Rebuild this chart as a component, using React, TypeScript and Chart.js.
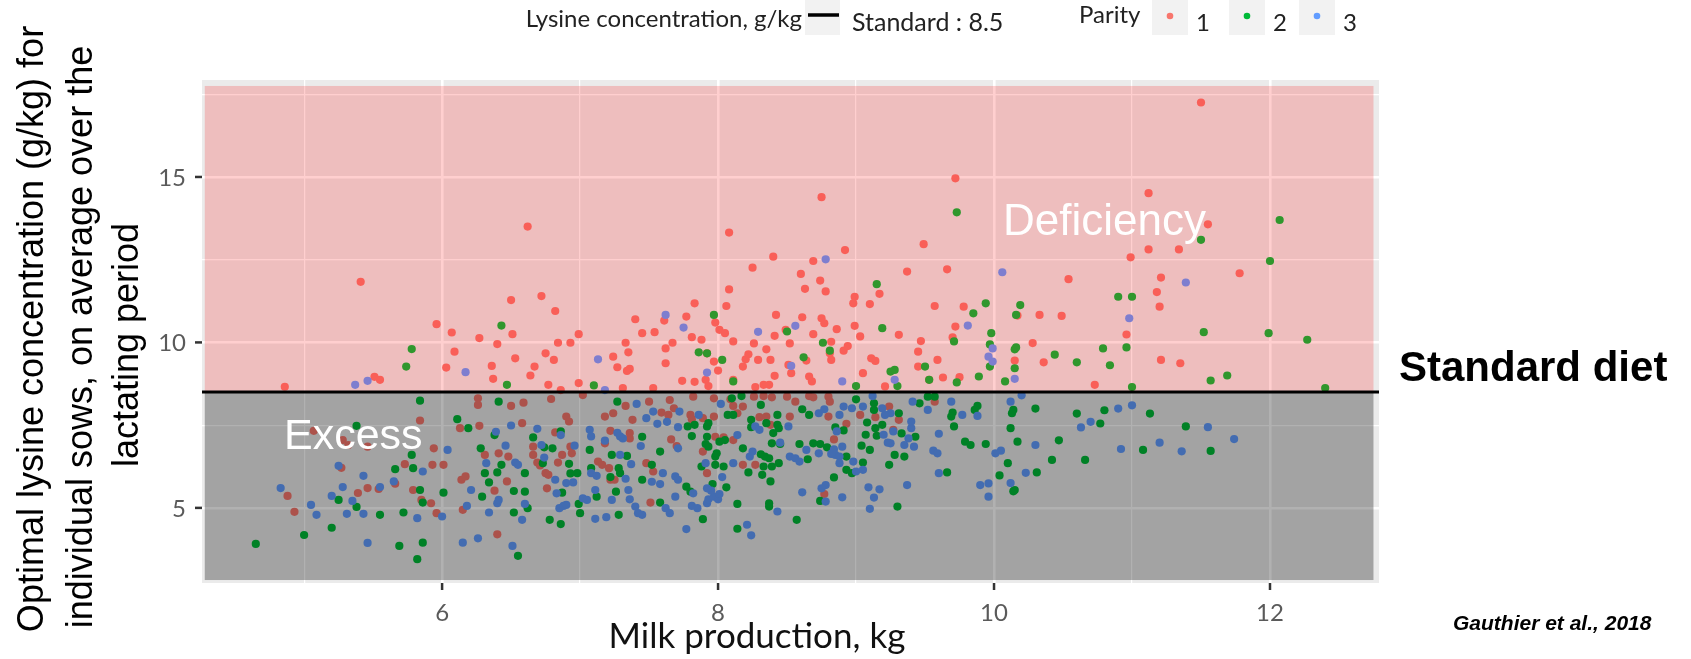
import React, { useEffect, useRef } from "react";
import { Chart, registerables } from "chart.js";

Chart.register(...registerables);

// ---------- data ----------
const xTicks = [6, 8, 10, 12];
const yTicks = [5, 10, 15];
const xRange = [4.26, 12.79];
const yRange = [2.73, 17.93];
const standardLevel = 8.5;
const regionX = [4.28, 12.75];
const deficiencyTop = 17.75;
const excessBottom = 2.82;
const parityLabels = ["1", "2", "3"];
const parityColors = ["#F8766D", "#00BA38", "#619CFF"];
const yTitleLines = [
  "Optimal lysine concentration (g/kg) for",
  "individual sows, on average over the",
  "lactating period",
];
const xTitle = "Milk production, kg";
const legendTitle = "Lysine concentration, g/kg";
const legendStandard = "Standard : 8.5";
const legendParity = "Parity";

const parity1: [number, number][] = [
  [4.86, 8.66], [5.51, 8.96], [5.55, 8.87], [5.07, 7.33], [5.28, 7.05], [5.32, 6.9], [5.46, 6.85], [5.27, 6.21],
  [4.88, 5.36], [5.39, 5.45], [5.46, 5.6], [5.54, 5.57], [4.93, 4.88], [5.41, 11.83], [6.62, 13.5], [6.72, 11.4],
  [6.5, 11.28], [6.82, 10.95], [5.96, 10.55], [6.07, 10.3], [6.51, 10.25], [6.27, 10.13], [6.4, 9.95], [6.09, 9.72],
  [6.84, 9.99], [6.93, 9.99], [6.99, 10.25], [6.75, 9.67], [6.53, 9.52], [6.81, 9.47], [6.03, 9.24], [6.36, 9.29],
  [6.67, 9.27], [6.37, 8.9], [6.64, 9.0], [6.77, 8.72], [6.99, 8.77], [7.24, 9.57], [7.27, 9.25], [7.34, 9.14],
  [7.36, 9.2], [7.4, 10.7], [7.45, 10.28], [7.54, 10.31], [7.33, 9.99], [7.35, 9.7], [7.61, 10.66], [7.77, 10.78],
  [7.83, 11.18], [7.81, 10.16], [7.67, 9.99], [7.62, 9.82], [7.62, 9.37], [7.74, 8.84], [7.83, 8.81], [7.53, 8.62],
  [7.31, 8.62], [6.86, 8.56],
  [6.26, 8.31], [6.26, 8.11], [6.5, 8.08], [6.59, 8.18], [6.79, 8.29], [7.02, 8.41], [5.84, 7.64], [6.13, 7.41],
  [6.27, 7.48], [6.58, 7.56], [6.9, 7.76], [6.92, 7.61], [6.82, 7.28], [7.18, 7.76], [7.24, 7.86], [7.22, 7.33],
  [7.33, 8.08], [7.38, 7.66], [7.36, 7.26], [7.36, 7.1], [7.18, 6.95], [7.5, 8.21], [7.59, 7.88], [7.65, 8.26],
  [7.68, 8.01], [7.64, 7.81], [7.8, 7.81], [7.81, 7.68], [7.82, 8.36], [7.66, 7.07], [7.7, 6.87], [5.94, 6.8],
  [5.73, 6.32], [5.93, 6.3], [6.01, 6.3], [5.66, 5.73], [5.79, 5.54], [5.85, 5.24], [5.92, 5.14], [5.96, 4.84],
  [6.14, 5.85], [6.17, 5.95], [6.31, 6.6], [6.38, 5.52], [6.15, 4.94], [6.41, 6.65], [6.47, 5.8], [6.48, 6.55],
  [6.66, 6.85], [6.66, 6.6], [6.69, 6.37], [6.71, 6.28], [6.75, 6.05], [6.77, 6.0], [6.84, 6.37], [6.87, 6.6],
  [6.93, 6.85], [6.94, 6.65], [6.76, 5.59], [7.13, 6.4], [7.16, 6.3], [7.21, 6.2], [7.22, 5.85], [7.25, 5.85],
  [7.53, 6.1], [7.48, 6.35], [7.51, 5.16], [6.4, 4.2],
  [8.06, 11.1], [7.98, 10.6], [8.01, 10.38], [8.05, 10.28], [8.11, 10.03], [7.88, 10.08], [7.92, 9.67], [7.97, 9.42],
  [8.0, 9.15], [8.11, 8.87], [7.91, 8.87], [7.93, 8.68], [8.18, 9.27], [8.2, 9.49], [8.22, 9.64], [8.26, 9.97],
  [8.29, 9.47], [8.35, 9.79], [8.38, 9.47], [8.41, 10.2], [8.42, 10.83], [8.41, 8.99], [8.33, 8.72], [8.37, 8.72],
  [8.27, 8.65], [8.49, 10.38], [8.52, 9.97], [8.51, 9.32], [8.53, 9.07], [8.64, 9.45], [8.61, 10.76], [8.69, 10.25],
  [8.66, 8.97], [8.68, 8.82], [8.75, 10.73], [8.77, 10.58], [8.82, 10.02], [8.82, 9.47], [8.81, 9.67], [8.86, 10.4],
  [8.91, 9.75], [8.94, 9.89], [8.99, 10.5], [9.03, 10.18], [8.98, 11.18], [9.1, 11.16], [9.05, 9.07], [9.11, 9.52],
  [9.14, 9.44], [9.31, 10.23], [9.21, 8.67], [9.57, 11.1], [9.45, 9.72], [9.47, 10.04], [9.45, 9.27], [9.53, 8.87],
  [9.59, 9.47], [9.63, 8.94], [9.72, 10.48], [9.78, 11.08], [9.7, 10.15], [9.75, 8.95], [10.15, 9.45],
  [7.97, 8.31], [8.09, 8.28], [8.18, 8.06], [8.11, 8.08], [8.26, 8.36], [8.33, 8.38], [8.39, 8.34], [8.5, 8.36],
  [8.56, 8.21], [8.66, 8.38], [8.69, 8.34], [8.8, 8.36], [8.81, 8.21], [8.8, 7.76], [9.03, 7.81], [9.14, 7.74],
  [9.24, 8.06], [9.31, 7.66], [9.57, 8.21], [9.27, 7.36], [8.77, 5.42], [8.84, 7.07], [8.93, 7.54], [7.92, 6.05],
  [8.18, 6.3], [8.27, 6.3], [7.89, 6.7], [7.98, 7.15], [8.04, 7.13], [8.11, 7.05], [7.97, 7.76], [7.89, 7.71],
  [8.14, 7.86], [8.3, 7.74], [8.35, 7.76], [8.38, 7.51], [8.52, 7.76],
  [9.72, 14.96], [8.75, 14.39], [8.08, 13.32], [11.12, 14.51], [11.55, 13.57], [11.78, 12.09], [11.12, 12.81],
  [11.34, 12.81], [10.99, 12.57], [11.21, 11.96], [11.18, 11.52], [10.54, 11.91], [9.49, 12.97], [9.66, 12.21],
  [9.37, 12.14], [8.92, 12.79], [8.4, 12.59], [8.69, 12.46], [8.25, 12.26], [8.6, 12.07], [8.74, 11.87], [8.63, 11.62],
  [8.78, 11.54], [8.08, 11.6], [8.99, 11.38], [9.17, 11.47], [10.33, 10.83], [10.49, 10.8], [10.17, 10.81],
  [11.5, 17.25], [10.28, 9.98], [10.36, 9.4], [10.73, 8.72], [10.96, 10.24], [11.2, 11.08], [11.21, 9.47], [11.35, 9.37],
];

const parity2: [number, number][] = [
  [5.38, 7.48], [5.25, 5.24], [5.38, 5.03], [5.55, 4.79], [5.2, 4.4], [5.0, 4.18], [4.65, 3.91],
  [6.43, 10.51], [5.78, 9.8], [5.74, 9.27], [6.47, 8.72], [7.1, 8.7], [7.86, 9.7],
  [5.84, 8.24], [6.41, 8.21], [6.11, 7.68], [6.19, 7.41], [6.38, 7.2], [6.86, 7.31], [6.66, 7.13], [7.27, 8.21],
  [7.45, 7.15], [7.78, 7.46], [7.83, 7.51], [7.81, 7.17], [5.78, 6.6], [5.79, 6.2], [5.66, 6.17], [5.84, 5.54],
  [5.86, 5.16], [5.72, 4.86], [6.01, 5.46], [6.28, 6.8], [6.31, 6.05], [6.34, 5.77], [6.29, 5.34], [6.4, 6.07],
  [6.43, 6.3], [6.52, 5.51], [6.6, 5.49], [6.6, 6.05], [6.62, 4.99], [6.52, 4.86], [6.74, 6.83], [6.8, 6.8],
  [6.73, 6.35], [6.92, 6.33], [6.93, 6.04], [6.98, 6.05], [6.87, 5.46], [6.78, 4.64], [6.86, 4.51], [6.99, 5.12],
  [7.0, 4.84], [7.28, 4.79], [7.12, 5.34], [7.08, 6.2], [7.07, 6.75], [7.22, 5.93], [7.23, 6.6], [7.34, 6.57],
  [7.28, 6.2], [7.29, 6.05], [7.26, 5.49], [7.45, 5.85], [7.52, 6.3], [7.58, 6.7], [7.58, 5.16], [7.77, 5.64],
  [7.8, 5.49], [5.69, 3.85], [5.86, 3.95], [5.82, 3.45], [6.55, 3.55],
  [7.97, 10.83], [7.92, 9.67], [8.03, 9.47], [8.11, 8.82], [8.5, 10.33], [8.62, 9.55], [8.76, 9.99], [8.81, 9.75],
  [9.0, 8.68], [9.19, 10.43], [9.25, 9.12], [9.28, 9.17], [9.3, 8.68], [9.5, 9.27], [9.53, 8.87], [9.71, 10.03],
  [9.85, 10.88], [9.94, 11.18], [9.98, 10.28], [9.97, 9.94], [9.97, 9.27], [9.73, 8.79], [9.89, 8.97], [10.08, 8.82],
  [10.15, 9.79], [10.15, 9.22], [10.16, 10.83],
  [8.1, 8.31], [8.17, 8.38], [8.31, 8.11], [8.61, 7.98], [8.66, 7.81], [9.0, 8.28], [9.13, 8.16], [9.13, 7.96],
  [9.31, 7.86], [9.46, 8.16], [9.52, 8.36], [9.57, 8.36], [9.7, 7.88], [9.69, 7.76], [9.71, 7.46], [9.88, 8.08],
  [9.86, 7.96], [10.14, 7.96], [10.13, 7.86], [10.12, 7.41], [10.17, 7.0], [9.94, 6.93], [9.79, 7.0], [9.83, 6.9],
  [10.1, 6.35], [10.04, 5.98], [10.15, 5.54], [9.66, 6.07], [9.3, 5.04], [9.24, 6.3], [9.28, 6.6], [9.35, 6.55],
  [9.33, 7.25], [9.43, 7.15], [9.19, 7.51], [9.14, 7.41], [9.15, 7.18], [9.08, 7.58], [9.07, 7.21], [9.1, 6.75],
  [9.04, 6.88], [8.74, 5.21], [8.84, 5.92], [8.93, 6.15], [8.97, 6.05], [9.05, 6.37], [8.93, 6.55], [8.79, 6.83],
  [8.74, 6.93], [8.69, 6.95], [8.85, 7.43], [8.91, 7.34], [8.59, 6.93], [8.65, 6.47], [8.44, 6.35], [8.38, 5.8],
  [8.57, 4.64], [8.37, 5.14], [8.37, 5.04], [8.14, 5.12], [8.14, 4.37], [7.89, 4.66], [8.06, 5.62], [7.96, 5.72],
  [7.88, 6.25], [7.98, 6.3], [8.04, 6.25], [8.22, 6.07], [8.32, 6.0], [8.33, 6.25], [8.39, 6.25], [8.31, 6.62],
  [7.98, 6.55], [7.99, 6.65], [7.93, 6.85], [7.91, 6.93], [8.01, 7.0], [8.05, 7.05], [8.18, 6.8], [7.92, 7.46],
  [7.93, 7.56], [7.92, 7.15], [8.07, 7.81], [8.11, 7.81], [8.24, 7.66], [8.24, 7.44], [8.35, 7.56], [8.43, 7.81],
  [8.43, 7.51], [8.4, 7.26], [8.39, 6.95], [8.45, 6.93], [8.44, 7.41], [8.37, 6.5], [8.34, 6.55],
  [9.73, 13.93], [11.5, 13.1], [12.07, 13.7], [12.0, 12.46], [10.9, 11.38], [11.0, 11.38], [9.15, 11.76], [10.19, 11.13],
  [11.52, 10.31], [11.99, 10.28], [12.27, 10.08], [11.57, 8.85], [11.69, 9.0], [12.4, 8.62],
  [10.16, 9.85], [10.44, 9.63], [10.79, 9.82], [10.84, 9.31], [10.96, 9.85], [10.6, 9.4],
  [10.3, 8.0], [10.6, 7.85], [10.8, 7.95], [10.47, 7.04], [10.77, 7.55], [10.31, 6.07], [11.08, 6.75], [11.39, 7.46],
  [11.57, 6.72], [10.42, 6.45], [10.14, 5.5], [10.66, 6.45], [11.13, 7.85], [11.0, 8.65],
];

const parity3: [number, number][] = [
  [5.37, 8.72], [5.46, 8.84], [5.25, 6.27], [5.43, 5.97], [4.83, 5.6], [5.28, 5.63], [5.55, 5.63], [5.2, 5.36],
  [5.35, 5.21], [5.05, 5.09], [5.09, 4.79], [5.31, 4.82], [5.43, 4.82], [5.46, 3.94],
  [6.17, 9.1], [7.13, 9.49], [7.62, 10.83], [7.75, 10.45], [7.18, 8.56],
  [6.39, 7.3], [6.5, 7.49], [6.69, 7.39], [6.86, 7.2], [7.07, 7.36], [7.08, 7.16], [7.41, 8.14], [7.27, 7.27],
  [7.31, 7.1], [7.44, 6.87], [7.18, 7.03], [7.48, 7.71], [7.53, 7.91], [7.56, 7.54], [7.63, 7.6], [7.71, 7.44],
  [7.72, 7.91], [7.86, 7.81], [7.71, 6.8], [6.04, 6.75], [5.86, 6.1], [5.65, 5.8], [5.82, 4.69], [6.0, 4.74],
  [6.21, 5.54], [6.32, 6.35], [6.18, 5.06], [6.34, 4.86], [6.4, 5.14], [6.41, 5.24], [6.46, 6.88], [6.53, 6.37],
  [6.55, 6.3], [6.6, 5.12], [6.58, 4.64], [6.72, 6.9], [6.74, 6.52], [6.96, 6.88], [6.82, 5.85], [6.9, 5.75],
  [6.95, 5.77], [6.83, 5.44], [6.85, 4.99], [6.88, 5.06], [6.9, 5.09], [7.02, 5.29], [7.05, 5.24], [7.11, 4.67],
  [7.19, 4.72], [7.11, 5.54], [7.08, 6.05], [7.12, 5.97], [7.23, 5.24], [7.29, 6.6], [7.29, 7.16], [7.33, 5.88],
  [7.35, 5.54], [7.36, 5.26], [7.37, 6.32], [7.4, 5.04], [7.42, 4.84], [7.45, 4.79], [7.52, 5.79], [7.58, 5.72],
  [7.6, 6.05], [7.69, 5.95], [7.71, 5.85], [7.62, 4.99], [7.65, 4.84], [7.69, 5.34], [7.82, 5.44], [7.81, 5.06],
  [7.85, 4.99], [7.77, 4.36], [6.15, 3.95], [6.26, 4.08], [6.51, 3.85],
  [7.92, 9.09], [8.29, 10.32], [8.56, 10.5], [8.53, 9.29], [8.9, 8.82], [9.28, 8.87], [9.81, 10.51], [9.99, 9.82],
  [9.96, 9.57], [9.99, 9.42], [10.15, 8.9],
  [8.02, 8.14], [8.73, 7.86], [8.77, 7.98], [8.88, 7.81], [8.91, 8.06], [8.97, 8.01], [9.05, 8.06], [9.12, 8.38],
  [9.19, 8.01], [9.25, 7.86], [9.21, 7.81], [9.4, 7.61], [9.4, 7.41], [9.41, 8.21], [9.52, 7.96], [9.69, 8.21],
  [9.77, 7.81], [9.88, 7.78], [10.12, 8.21], [9.6, 7.24], [9.56, 6.73], [9.59, 6.65], [10.01, 6.65], [10.05, 6.73],
  [9.6, 6.05], [9.9, 5.69], [9.96, 5.74], [9.96, 5.34], [9.37, 5.69], [9.35, 6.9], [9.38, 7.1], [9.42, 6.85],
  [9.27, 7.31], [9.25, 6.95], [9.2, 7.21], [9.23, 6.97], [9.09, 5.62], [9.17, 5.56], [9.13, 5.31], [9.1, 4.97],
  [8.9, 5.32], [8.78, 5.69], [8.75, 5.59], [8.78, 5.19], [9.0, 6.1], [9.05, 6.15], [8.98, 6.4], [8.85, 6.6],
  [8.88, 6.55], [8.88, 6.35], [8.82, 6.63], [8.84, 6.77], [8.9, 6.85], [8.86, 7.31], [8.73, 6.65], [8.64, 6.75],
  [8.52, 6.55], [8.56, 6.5], [8.59, 6.4], [8.61, 5.47], [8.43, 4.89], [8.21, 4.49], [8.24, 4.17], [7.92, 5.14],
  [7.93, 5.26], [7.97, 5.34], [8.0, 5.26], [8.01, 5.42], [7.95, 5.52], [7.92, 5.59], [8.03, 5.93], [7.91, 6.35],
  [8.11, 6.35], [8.23, 6.55], [8.25, 6.7], [8.14, 7.2], [8.27, 7.46], [8.3, 7.36], [8.45, 6.97], [8.51, 7.46],
  [11.39, 11.81], [10.98, 10.73], [10.06, 12.12], [8.78, 12.51], [11.55, 7.44], [11.74, 7.08],
  [10.2, 8.4], [10.9, 8.0], [10.7, 7.6], [10.3, 6.9], [10.92, 6.78], [11.2, 6.97], [11.36, 6.71], [10.12, 5.75],
  [10.23, 6.06], [10.63, 7.43], [11.0, 8.1],
];

const paritySeries = [parity1, parity2, parity3];

// ---------- drawing ----------
const TICK_FONT = "24px Lato, 'Open Sans', sans-serif";
const LEGEND_FONT = "24px Lato, 'Open Sans', sans-serif";

const decorPlugin = {
  id: "decor",
  beforeDraw(chart: any) {
    const { ctx, chartArea: a } = chart;
    ctx.save();
    ctx.fillStyle = "#EBEBEB";
    ctx.fillRect(a.left, a.top, a.right - a.left, a.bottom - a.top);
    ctx.restore();
  },
  afterDatasetsDraw(chart: any) {
    const { ctx, chartArea: a } = chart;
    const x = chart.scales.x;
    const y = chart.scales.y;
    const l = x.getPixelForValue(regionX[0]);
    const r = x.getPixelForValue(regionX[1]);
    const ys = y.getPixelForValue(standardLevel);
    const yt = y.getPixelForValue(deficiencyTop);
    const yb = y.getPixelForValue(excessBottom);
    ctx.save();
    ctx.fillStyle = "rgba(255,0,0,0.19)";
    ctx.fillRect(l, yt, r - l, ys - yt);
    ctx.fillStyle = "rgba(0,0,0,0.305)";
    ctx.fillRect(l, ys, r - l, yb - ys);
    ctx.strokeStyle = "#000";
    ctx.lineWidth = 3;
    ctx.beginPath();
    ctx.moveTo(a.left, ys);
    ctx.lineTo(a.right, ys);
    ctx.stroke();
    ctx.restore();
  },
  afterDraw(chart: any) {
    const { ctx, chartArea: a } = chart;
    const x = chart.scales.x;
    const y = chart.scales.y;
    ctx.save();
    // ticks
    ctx.strokeStyle = "#333";
    ctx.lineWidth = 2.5;
    ctx.fillStyle = "#5A5A5A";
    ctx.font = TICK_FONT;
    ctx.textBaseline = "middle";
    ctx.textAlign = "right";
    yTicks.forEach((v) => {
      const p = y.getPixelForValue(v);
      ctx.beginPath();
      ctx.moveTo(a.left - 7, p);
      ctx.lineTo(a.left, p);
      ctx.stroke();
      ctx.fillText(String(v), a.left - 16, p + 1);
    });
    ctx.textAlign = "center";
    xTicks.forEach((v) => {
      const p = x.getPixelForValue(v);
      ctx.beginPath();
      ctx.moveTo(p, a.bottom);
      ctx.lineTo(p, a.bottom + 7);
      ctx.stroke();
      ctx.fillText(String(v), p, a.bottom + 30);
    });
    // x title
    ctx.fillStyle = "#111";
    ctx.font = "35px Lato, 'Open Sans', sans-serif";
    ctx.fillText(xTitle, 757, 637);
    // y title
    ctx.fillStyle = "#000";
    ctx.font = "36px 'Liberation Sans', Arial, sans-serif";
    const yPos = [
      [33, 329],
      [82, 337],
      [128, 345],
    ];
    yTitleLines.forEach((t, i) => {
      ctx.save();
      ctx.translate(yPos[i][0], yPos[i][1]);
      ctx.rotate(-Math.PI / 2);
      ctx.textAlign = "center";
      ctx.textBaseline = "middle";
      ctx.fillText(t, 0, 0);
      ctx.restore();
    });
    // annotations
    ctx.fillStyle = "#FFFFFF";
    ctx.textAlign = "left";
    ctx.font = "44px 'Liberation Sans', Arial, sans-serif";
    ctx.fillText("Deficiency", 1003, 223);
    ctx.font = "43px 'Liberation Sans', Arial, sans-serif";
    ctx.fillText("Excess", 284, 437);
    ctx.fillStyle = "#000";
    ctx.font = "bold 42px 'Liberation Sans', Arial, sans-serif";
    ctx.fillText("Standard diet", 1399, 369);
    ctx.font = "italic bold 21px 'Liberation Sans', Arial, sans-serif";
    ctx.fillText("Gauthier et al., 2018", 1453, 624);
    // legend
    ctx.font = LEGEND_FONT;
    ctx.fillStyle = "#222";
    ctx.textAlign = "right";
    ctx.fillText(legendTitle, 802, 19);
    ctx.fillStyle = "#F2F2F2";
    ctx.fillRect(805, 0, 35, 35);
    ctx.strokeStyle = "#000";
    ctx.lineWidth = 3.5;
    ctx.beginPath();
    ctx.moveTo(808, 15);
    ctx.lineTo(839, 15);
    ctx.stroke();
    ctx.fillStyle = "#222";
    ctx.textAlign = "left";
    ctx.font = "25px Lato, 'Open Sans', sans-serif";
    ctx.fillText(legendStandard, 852, 23);
    ctx.font = LEGEND_FONT;
    ctx.fillText(legendParity, 1079, 15);
    const keyCenters = [1170, 1247, 1317];
    parityLabels.forEach((lab, i) => {
      const cx = keyCenters[i];
      ctx.fillStyle = "#F2F2F2";
      ctx.fillRect(cx - 18, 0, 36, 35);
      ctx.fillStyle = parityColors[i];
      ctx.beginPath();
      ctx.arc(cx, 16, 3.3, 0, Math.PI * 2);
      ctx.fill();
      ctx.fillStyle = "#222";
      ctx.fillText(lab, cx + 26, 23);
    });
    ctx.restore();
  },
};

export default function App() {
  const ref = useRef<HTMLCanvasElement | null>(null);
  useEffect(() => {
    if (!ref.current) return;
    const datasets = [2, 1, 0].map((i) => ({
      label: parityLabels[i],
      data: paritySeries[i].map(([px, py]) => ({ x: px, y: py })),
      backgroundColor: parityColors[i],
      borderWidth: 0,
      pointRadius: 4.1,
      pointHoverRadius: 4.1,
    }));
    const chart = new Chart(ref.current, {
      type: "scatter",
      data: { datasets },
      options: {
        animation: false,
        responsive: false,
        events: [],
        layout: { padding: { left: 202, right: 312, top: 80, bottom: 76 } },
        plugins: { legend: { display: false }, tooltip: { enabled: false } },
        scales: {
          x: {
            type: "linear",
            min: xRange[0],
            max: xRange[1],
            afterFit: (s: any) => {
              s.height = 0;
            },
            ticks: { display: false, stepSize: 1, includeBounds: false },
            border: { display: false },
            grid: {
              color: "#FFFFFF",
              drawTicks: false,
              lineWidth: (c: any) => (c.tick && c.tick.value % 2 === 0 ? 2.6 : 1.2),
            },
          },
          y: {
            type: "linear",
            min: yRange[0],
            max: yRange[1],
            afterFit: (s: any) => {
              s.width = 0;
            },
            ticks: { display: false, stepSize: 2.5, includeBounds: false },
            border: { display: false },
            grid: {
              color: "#FFFFFF",
              drawTicks: false,
              lineWidth: (c: any) => (c.tick && c.tick.value % 5 === 0 ? 2.6 : 1.2),
            },
          },
        },
      },
      plugins: [decorPlugin],
    } as any);
    return () => chart.destroy();
  }, []);
  return (
    <div style={{ position: "fixed", left: 0, top: 0, width: 1691, height: 659, background: "#fff" }}>
      <canvas ref={ref} width={1691} height={659} style={{ display: "block" }} />
    </div>
  );
}
